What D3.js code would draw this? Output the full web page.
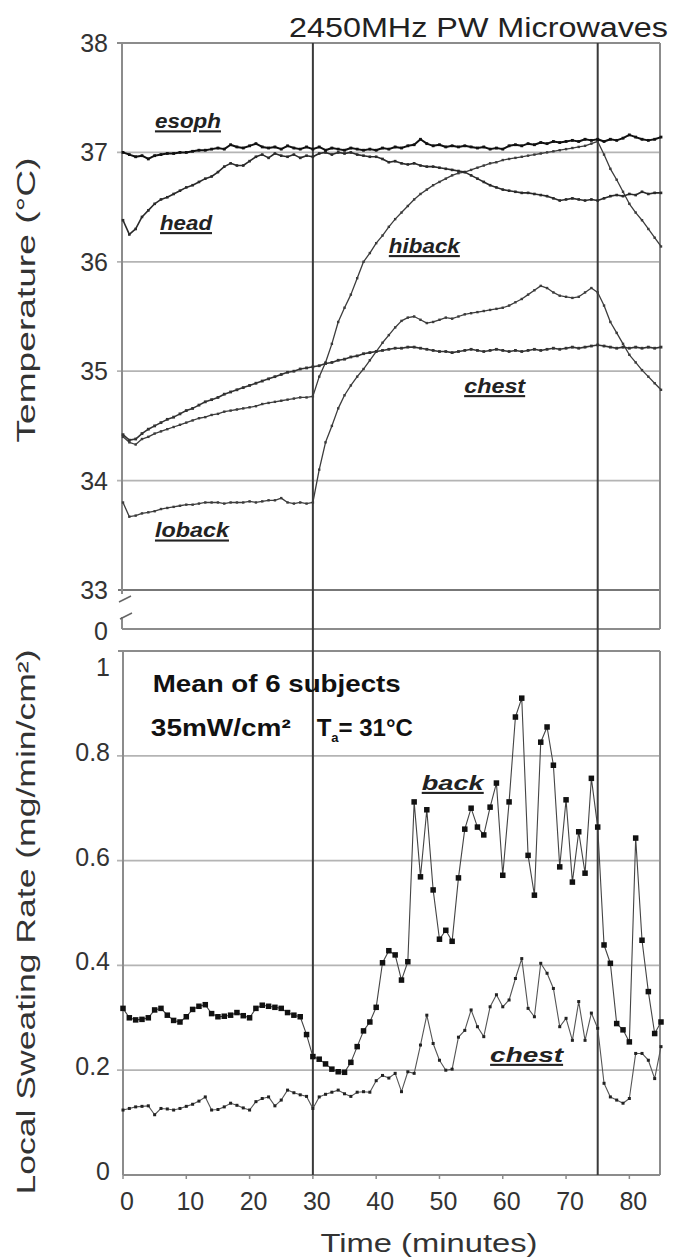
<!DOCTYPE html>
<html>
<head>
<meta charset="utf-8">
<script src="https://cdn.jsdelivr.net/npm/d3@7"></script>
<style>
  body { margin: 0; background: #fff; }
  svg { display: block; }
  text { font-family: "Liberation Sans", Arial, sans-serif; }
</style>
</head>
<body>
<div id="chart"></div>
<script>
// one reading per minute, 0..85 min
const esoph = [37.00,36.98,36.96,36.97,36.94,36.97,36.98,36.99,36.99,37.00,37.00,37.01,37.02,37.02,37.03,37.04,37.03,37.07,37.05,37.04,
  37.06,37.08,37.05,37.04,37.05,37.03,37.06,37.04,37.03,37.05,37.03,37.05,37.02,37.04,37.03,37.02,37.04,37.03,37.02,37.03,
  37.02,37.04,37.03,37.05,37.04,37.06,37.07,37.12,37.08,37.06,37.07,37.05,37.06,37.05,37.06,37.05,37.04,37.05,37.03,37.04,
  37.03,37.06,37.07,37.06,37.08,37.07,37.09,37.08,37.10,37.09,37.10,37.11,37.10,37.12,37.11,37.12,37.10,37.12,37.11,37.13,
  37.16,37.14,37.12,37.11,37.12,37.14];
const head = [36.38,36.25,36.30,36.41,36.47,36.53,36.57,36.59,36.62,36.65,36.68,36.70,36.73,36.76,36.78,36.82,36.87,36.90,36.88,36.88,
  36.92,36.96,36.98,36.95,36.99,36.97,36.96,36.98,36.95,36.97,36.96,36.99,37.00,36.98,37.00,36.99,37.00,36.98,36.97,36.96,
  36.96,36.94,36.91,36.92,36.90,36.89,36.90,36.88,36.87,36.87,36.86,36.85,36.84,36.83,36.82,36.79,36.76,36.73,36.70,36.68,
  36.66,36.65,36.64,36.63,36.63,36.62,36.61,36.60,36.58,36.56,36.57,36.58,36.57,36.56,36.57,36.56,36.58,36.60,36.61,36.60,
  36.62,36.61,36.64,36.62,36.63,36.63];
const hiback = [34.40,34.35,34.33,34.38,34.40,34.43,34.45,34.47,34.49,34.51,34.53,34.55,34.57,34.58,34.60,34.61,34.63,34.64,34.65,34.66,
  34.67,34.68,34.70,34.71,34.72,34.73,34.74,34.75,34.76,34.76,34.77,34.95,35.08,35.25,35.45,35.58,35.70,35.85,36.00,36.08,
  36.17,36.24,36.32,36.39,36.45,36.51,36.57,36.62,36.66,36.70,36.73,36.76,36.79,36.81,36.82,36.84,36.86,36.88,36.90,36.91,
  36.93,36.94,36.95,36.96,36.97,36.98,36.99,37.00,37.01,37.02,37.03,37.04,37.05,37.06,37.08,37.10,36.98,36.85,36.75,36.64,
  36.53,36.45,36.38,36.30,36.22,36.14];
const loback = [33.80,33.67,33.68,33.70,33.71,33.72,33.74,33.75,33.76,33.77,33.78,33.78,33.79,33.80,33.80,33.80,33.79,33.80,33.80,33.80,
  33.81,33.80,33.81,33.82,33.82,33.84,33.80,33.79,33.80,33.79,33.80,34.10,34.35,34.50,34.66,34.78,34.87,34.95,35.02,35.10,
  35.18,35.26,35.33,35.40,35.46,35.49,35.50,35.47,35.44,35.45,35.47,35.49,35.48,35.50,35.52,35.53,35.54,35.55,35.56,35.57,
  35.58,35.60,35.63,35.66,35.70,35.74,35.78,35.76,35.72,35.69,35.68,35.67,35.68,35.72,35.76,35.72,35.60,35.45,35.35,35.25,
  35.15,35.08,35.01,34.95,34.89,34.83];
const chestTemp = [34.42,34.37,34.38,34.43,34.47,34.50,34.53,34.56,34.58,34.61,34.64,34.66,34.69,34.72,34.74,34.76,34.79,34.81,34.83,34.85,
  34.87,34.89,34.91,34.93,34.95,34.97,34.99,35.00,35.02,35.03,35.04,35.05,35.07,35.08,35.10,35.11,35.13,35.14,35.16,35.17,
  35.18,35.19,35.20,35.21,35.21,35.22,35.22,35.21,35.20,35.19,35.18,35.18,35.17,35.18,35.19,35.20,35.19,35.18,35.19,35.20,
  35.19,35.18,35.19,35.18,35.19,35.20,35.19,35.20,35.21,35.20,35.21,35.22,35.21,35.22,35.23,35.24,35.23,35.22,35.21,35.22,
  35.21,35.22,35.21,35.22,35.21,35.22];

const backSweat = [0.318,0.300,0.296,0.297,0.300,0.315,0.318,0.305,0.295,0.292,0.302,0.316,0.322,0.325,0.308,0.302,0.303,0.305,0.310,0.304,
  0.300,0.318,0.324,0.322,0.320,0.318,0.310,0.305,0.302,0.268,0.226,0.221,0.212,0.202,0.197,0.196,0.215,0.245,0.275,0.292,
  0.320,0.405,0.428,0.420,0.372,0.407,0.712,0.569,0.697,0.544,0.450,0.467,0.446,0.567,0.660,0.700,0.664,0.649,0.702,0.748,
  0.572,0.712,0.874,0.910,0.610,0.534,0.826,0.855,0.782,0.588,0.716,0.559,0.655,0.576,0.757,0.664,0.439,0.404,0.289,0.277,
  0.254,0.643,0.448,0.350,0.270,0.292];
const chestSweat = [0.124,0.127,0.130,0.131,0.132,0.115,0.127,0.126,0.124,0.127,0.131,0.135,0.141,0.149,0.124,0.125,0.130,0.137,0.133,0.128,
  0.124,0.140,0.146,0.149,0.132,0.143,0.162,0.157,0.153,0.150,0.127,0.149,0.154,0.158,0.162,0.155,0.150,0.158,0.159,0.158,
  0.180,0.190,0.185,0.194,0.159,0.197,0.194,0.248,0.305,0.251,0.219,0.200,0.202,0.263,0.276,0.315,0.283,0.264,0.321,0.344,
  0.321,0.334,0.375,0.413,0.318,0.302,0.404,0.385,0.356,0.283,0.299,0.257,0.331,0.257,0.309,0.280,0.175,0.149,0.143,0.137,
  0.146,0.232,0.232,0.219,0.184,0.245];

const timeTicks = [0, 10, 20, 30, 40, 50, 60, 70, 80];
const tempTicks = [33, 34, 35, 36, 37, 38];
const sweatTicks = [0, 0.2, 0.4, 0.6, 0.8, 1];
const exposure = [30, 75];

const W = 674, H = 1259;
const svg = d3.select("#chart").append("svg").attr("width", W).attr("height", H);

const x = d3.scaleLinear().domain([0, 85]).range([123, 661]);
const yT = d3.scaleLinear().domain([33, 38]).range([590, 43]);
const yS = d3.scaleLinear().domain([0, 1]).range([1175, 651]);
const left = 122, right = 660, topBase = 629;

const grid = svg.append("g");
// temperature gridlines
grid.selectAll(".gt").data(tempTicks.slice(1, 5)).join("line")
  .attr("x1", left - 5).attr("x2", right)
  .attr("y1", d => yT(d)).attr("y2", d => yT(d))
  .attr("stroke", "#b4b4b4").attr("stroke-width", 1.8);
grid.selectAll(".gs").data(sweatTicks.slice(1, 5)).join("line")
  .attr("x1", left - 5).attr("x2", right)
  .attr("y1", d => yS(d)).attr("y2", d => yS(d))
  .attr("stroke", "#b4b4b4").attr("stroke-width", 1.8);

// frames
const frame = svg.append("g").attr("fill", "none").attr("stroke", "#8c8c8c").attr("stroke-width", 2);
frame.append("line").attr("x1", left - 5).attr("x2", right).attr("y1", yT(38)).attr("y2", yT(38));
frame.append("line").attr("x1", left - 4).attr("x2", right).attr("y1", yT(33)).attr("y2", yT(33)).attr("stroke", "#777");
frame.append("line").attr("x1", left).attr("x2", right).attr("y1", topBase).attr("y2", topBase);
frame.append("line").attr("x1", right).attr("x2", right).attr("y1", yT(38)).attr("y2", topBase);
frame.append("line").attr("x1", left).attr("x2", left).attr("y1", yT(38)).attr("y2", yT(33) + 4);
frame.append("line").attr("x1", left).attr("x2", left).attr("y1", topBase - 12).attr("y2", topBase);
frame.append("line").attr("x1", left - 4).attr("x2", right).attr("y1", yS(1)).attr("y2", yS(1));
frame.append("line").attr("x1", left + 1).attr("x2", right).attr("y1", yS(0)).attr("y2", yS(0));
frame.append("line").attr("x1", right).attr("x2", right).attr("y1", yS(1)).attr("y2", yS(0));
frame.append("line").attr("x1", left + 1).attr("x2", left + 1).attr("y1", yS(1)).attr("y2", yS(0));
// axis break marks
frame.append("path").attr("d", `M${left - 3},${yT(33) + 12}l12,-6M${left - 2},${topBase - 10}l12,-6`)
  .attr("stroke-width", 1.5).attr("stroke", "#666");

// x ticks
svg.append("g").selectAll("line").data(timeTicks).join("line")
  .attr("x1", d => x(d)).attr("x2", d => x(d))
  .attr("y1", yS(0)).attr("y2", yS(0) + 4)
  .attr("stroke", "#8c8c8c").attr("stroke-width", 1.5);

// exposure on / off
svg.append("g").selectAll("line").data(exposure).join("line")
  .attr("x1", d => x(d)).attr("x2", d => x(d))
  .attr("y1", yT(38)).attr("y2", yS(0))
  .attr("stroke", "#3a3a3a").attr("stroke-width", 2);

function series(data, y, opt) {
  const g = svg.append("g");
  const line = d3.line().x((d, i) => x(i)).y(d => y(d));
  g.append("path").datum(data).attr("d", line)
    .attr("fill", "none").attr("stroke", opt.color).attr("stroke-width", opt.width)
    .attr("stroke-linejoin", "round");
  const s = opt.marker;
  g.selectAll("rect").data(data).join("rect")
    .attr("x", (d, i) => x(i) - s / 2).attr("y", d => y(d) - s / 2)
    .attr("width", s).attr("height", s).attr("fill", opt.mcolor || opt.color);
}

series(loback, yT, { color: "#3c3c3c", width: 1.3, marker: 2.4 });
series(hiback, yT, { color: "#3c3c3c", width: 1.3, marker: 2.4 });
series(chestTemp, yT, { color: "#333", width: 1.6, marker: 2.8 });
series(head, yT, { color: "#2a2a2a", width: 1.6, marker: 2.6 });
series(esoph, yT, { color: "#111", width: 2, marker: 2.8 });
series(chestSweat, yS, { color: "#555", width: 1.1, marker: 3 , mcolor: "#222"});
series(backSweat, yS, { color: "#444", width: 1.1, marker: 5.5, mcolor: "#111" });

// tick labels
const lab = svg.append("g").attr("fill", "#333").attr("font-size", 25);
lab.selectAll(".tt").data(tempTicks).join("text")
  .attr("x", 108).attr("y", d => yT(d)).attr("dy", "0.36em")
  .attr("text-anchor", "end").text(d => d);
lab.append("text").attr("x", 108).attr("y", topBase + 2).attr("dy", "0.36em")
  .attr("text-anchor", "end").text("0");
lab.selectAll(".ts").data(sweatTicks).join("text")
  .attr("x", 110).attr("y", d => yS(d) + (d === 1 ? 16 : -4)).attr("dy", "0.36em")
  .attr("text-anchor", "end").text(d => d);
lab.selectAll(".tx").data(timeTicks).join("text")
  .attr("x", d => x(d) + 4).attr("y", yS(0) + 35)
  .attr("text-anchor", "middle").text(d => d);

// axis titles
svg.append("text").attr("x", 429).attr("y", 1252).attr("text-anchor", "middle")
  .attr("font-size", 25).attr("fill", "#333")
  .attr("textLength", 217).attr("lengthAdjust", "spacingAndGlyphs").text("Time (minutes)");
svg.append("text").attr("transform", "translate(35,300) rotate(-90)").attr("text-anchor", "middle")
  .attr("font-size", 25).attr("fill", "#333")
  .attr("textLength", 285).attr("lengthAdjust", "spacingAndGlyphs").text("Temperature (°C)");
svg.append("text").attr("transform", "translate(35,922) rotate(-90)").attr("text-anchor", "middle")
  .attr("font-size", 25).attr("fill", "#333")
  .attr("textLength", 545).attr("lengthAdjust", "spacingAndGlyphs").text("Local Sweating Rate (mg/min/cm²)");

// title
svg.append("text").attr("x", 289).attr("y", 37).attr("font-size", 27).attr("fill", "#222")
  .attr("textLength", 379).attr("lengthAdjust", "spacingAndGlyphs").text("2450MHz PW Microwaves");

// series labels
const tags = [
  { t: "esoph", m: 5.05, y: yT(37.22), w: 66 },
  { t: "head", m: 5.85, y: yT(36.29), w: 52 },
  { t: "hiback", m: 42.0, y: yT(36.08), w: 71 },
  { t: "chest", m: 53.9, y: yT(34.80), w: 61 },
  { t: "loback", m: 5.05, y: yT(33.48), w: 74 },
  { t: "back", m: 47.2, y: yS(0.735), w: 62 },
  { t: "chest", m: 58.0, y: yS(0.216), w: 73 }
];
svg.append("g").selectAll("text").data(tags).join("text")
  .attr("x", d => x(d.m)).attr("y", d => d.y)
  .attr("font-size", 21).attr("font-weight", "bold").attr("font-style", "italic")
  .attr("fill", "#222").attr("text-decoration", "underline")
  .attr("textLength", d => d.w).attr("lengthAdjust", "spacingAndGlyphs")
  .text(d => d.t);

// conditions note
const note = svg.append("g").attr("font-weight", "bold").attr("fill", "#111").attr("font-size", 24);
note.append("text").attr("x", x(4.7)).attr("y", yS(0.922))
  .attr("textLength", 248).attr("lengthAdjust", "spacingAndGlyphs").text("Mean of 6 subjects");
note.append("text").attr("x", x(4.4)).attr("y", yS(0.838))
  .attr("textLength", 140).attr("lengthAdjust", "spacingAndGlyphs").text("35mW/cm²");
const ta = note.append("text").attr("x", x(30.6)).attr("y", yS(0.838));
ta.append("tspan").text("T");
ta.append("tspan").attr("font-size", 13).attr("dy", 6).text("a");
ta.append("tspan").attr("dy", -6).text("= 31°C");
</script>
</body>
</html>
